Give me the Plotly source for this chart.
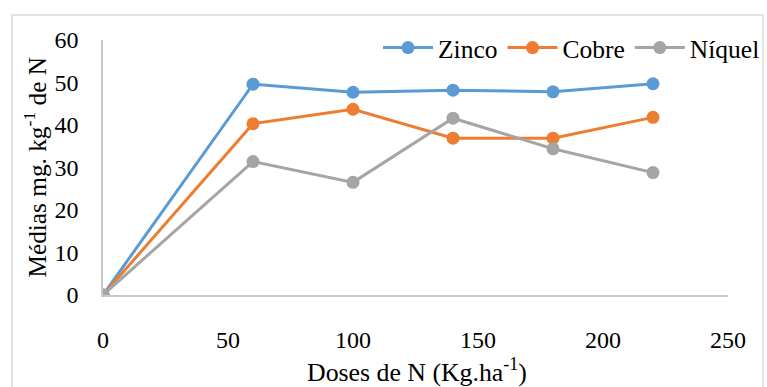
import plotly.graph_objects as go

# Nitrogen doses (kg/ha) and mean concentrations (mg/kg of N)
doses = [0, 60, 100, 140, 180, 220]
zinco = [0, 49.6, 47.7, 48.2, 47.8, 49.7]
cobre = [0, 40.3, 43.7, 36.9, 36.9, 41.8]
niquel = [0, 31.4, 26.5, 41.6, 34.4, 28.8]

series_names = ["Zinco", "Cobre", "Níquel"]
series_colors = ["#5B9BD5", "#ED7D31", "#A5A5A5"]
x_ticks = [0, 50, 100, 150, 200, 250]
y_ticks = [0, 10, 20, 30, 40, 50, 60]

font_family = "Times New Roman, Liberation Serif, DejaVu Serif, serif"

fig = go.Figure()
for name, vals, color in zip(series_names, [zinco, cobre, niquel], series_colors):
    fig.add_trace(go.Scatter(
        x=doses, y=vals, name=name, mode="lines+markers",
        line=dict(color=color, width=3),
        marker=dict(color=color, size=13),
    ))

fig.update_layout(
    template="none",
    width=767, height=387,
    margin=dict(l=103, r=2, t=2, b=92, autoexpand=False),
    paper_bgcolor="white", plot_bgcolor="white",
    font=dict(family=font_family, size=24, color="black"),
    showlegend=True,
    legend=dict(
        orientation="h", x=1.0, xanchor="right", y=0.843, yanchor="middle",
        font=dict(family=font_family, size=25.5), bgcolor="rgba(0,0,0,0)",
        itemwidth=50, tracegroupgap=0,
    ),
    xaxis=dict(
        domain=[0, 0.9441], automargin=False,
        range=[0, 250], tickvals=x_ticks, showgrid=False, zeroline=False,
        showline=True, linecolor="#C8C8C8", linewidth=1.5,
        ticks="outside", ticklen=22, tickcolor="rgba(0,0,0,0)",
        tickfont=dict(family=font_family, size=24),
    ),
    yaxis=dict(
        domain=[0, 0.8703], automargin=False,
        range=[0, 60], tickvals=y_ticks, showgrid=False, zeroline=False,
        showline=True, linecolor="#C8C8C8", linewidth=1.5,
        ticks="outside", ticklen=18, tickcolor="rgba(0,0,0,0)",
        tickfont=dict(family=font_family, size=24),
    ),
    shapes=[dict(
        type="rect", xref="paper", yref="paper",
        x0=-0.1375, x1=0.997, y0=-0.5, y1=0.9556,
        line=dict(color="#D9D9D9", width=1.5), fillcolor="rgba(0,0,0,0)",
        layer="below",
    )],
    annotations=[
        dict(text="Doses de N (Kg.ha<sup>-1</sup>)", xref="paper", yref="paper",
             x=0.475, y=-0.258, xanchor="center", yanchor="middle",
             showarrow=False, font=dict(family=font_family, size=25.8)),
        dict(text="Médias mg. kg<sup>-1</sup> de N", xref="paper", yref="paper",
             x=-0.1027, y=0.435, xanchor="center", yanchor="middle",
             textangle=-90, showarrow=False, font=dict(family=font_family, size=25.3)),
    ],
)

fig.write_html("out.html")
